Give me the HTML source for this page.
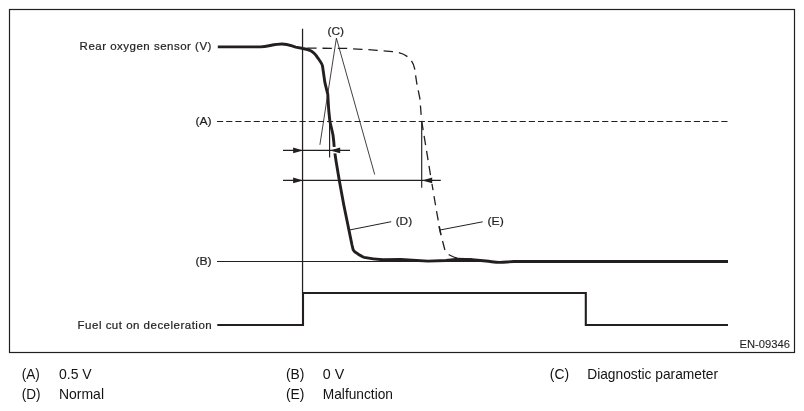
<!DOCTYPE html>
<html><head><meta charset="utf-8">
<style>
html,body{margin:0;padding:0;background:#fff;}
body{width:804px;height:411px;overflow:hidden;position:relative;font-family:"Liberation Sans",sans-serif;color:#231f20;}
svg{position:absolute;left:0;top:0;transform:translateZ(0);}
text{font-family:"Liberation Sans",sans-serif;fill:#231f20;}
.d{font-size:11.5px;stroke:#231f20;stroke-width:0.22px;}
.s{font-size:11.7px;}
.l{font-size:14.2px;fill:#141213;}
</style></head><body>
<svg width="804" height="411" viewBox="0 0 804 411">
<rect x="9.5" y="9.5" width="785" height="343" fill="none" stroke="#231f20" stroke-width="1.2"/>
<!-- dashed E curve -->
<path d="M421.65 120.8 L421.1 114.3 L419.9 98.7 L416.8 83.5 L414.6 68.5 C413.8 64.5 412 60.5 408.5 57.5 C405 54.5 400 52.3 392.5 51.6 L377 50.3 L362 49.3 L346 48.4 L305.4 48.1" fill="none" stroke="#231f20" stroke-width="1.3" stroke-dasharray="9.4 5.9" stroke-dashoffset="9.4"/>
<path d="M421.65 120.8 L431.3 180 L436.5 211 L440.9 234.6 L444.9 250 C446.5 253 448 254.2 450.5 255.5 C453 257 455.5 257.8 458 258.3 L472.3 259.2" fill="none" stroke="#231f20" stroke-width="1.3" stroke-dasharray="9.35 5.9"/>
<!-- thick D curve -->
<path d="M217.8 46.9 L260.6 46.9 C268 46.6 274 44 282 44 C288 44 291 45.8 295.7 47.1 L303 48.5 C306 49 308.5 49.6 311.2 51 C314 52.5 316 55 318 58.2 C320 61 322 63.5 322.5 66 L324.9 82.6 L327.8 94.3 L328.7 110 L329.9 121.5 L331.9 130 L333 135 L333.8 142 L334.4 150 L336.2 162 L339.3 180.4 L343.8 205 L352 245 L353.2 249.8 C354.3 252 356 252.8 358 254 C360 255.2 361.5 256.6 364.2 257.3 C370 258.6 376 259.4 383.2 259.7 L400.7 259.5 L428 261.1 L446 260.5 L458 259.3 L472 259.8 L486 261 C492 261.6 495 262.4 499.7 262.4 C505 262.4 508 261.6 514 261.5 L728 261.5" fill="none" stroke="#231f20" stroke-width="2.9" stroke-linejoin="round"/>
<!-- fuel cut -->
<path d="M217.3 325 L303 325 L303 293 L585.8 293 L585.8 325 L728 325" fill="none" stroke="#231f20" stroke-width="2.1"/>
<!-- arrowheads with white knock-out -->
<rect x="330.6" y="146.9" width="10.4" height="6.5" fill="#fff"/>
<rect x="423.2" y="176.6" width="9.8" height="7.2" fill="#fff"/>
<g fill="#231f20" stroke="#fff" stroke-width="1" paint-order="stroke">
<path d="M303 150.4 L293.1 147.45 L293.1 153.35 Z"/>
<path d="M330.1 150.4 L340.2 147.45 L340.2 153.35 Z"/>
<path d="M303 180.4 L293.1 177.45 L293.1 183.35 Z"/>
<path d="M422.2 180.4 L432.2 177.45 L432.2 183.35 Z"/>
</g>
<g stroke="#231f20" fill="none" stroke-width="1.15">
<!-- vertical ref line -->
<line x1="302.55" y1="28.8" x2="302.55" y2="293" stroke-width="1.25"/>
<!-- A dashed -->
<line x1="217" y1="121.5" x2="727.5" y2="121.5" stroke-width="1.2" stroke-dasharray="6.17 3"/>
<!-- B line -->
<line x1="217" y1="261.5" x2="728" y2="261.5"/>
<!-- dim rows -->
<line x1="283" y1="150.4" x2="350" y2="150.4"/>
<line x1="329.6" y1="122" x2="329.6" y2="157.5"/>
<line x1="283" y1="180.4" x2="440.8" y2="180.4"/>
<line x1="421.7" y1="121.3" x2="421.7" y2="187.8"/>
</g>
<g stroke="#231f20" fill="none" stroke-width="0.85">
<!-- C leaders -->
<line x1="336.4" y1="38.1" x2="319.9" y2="144.8"/>
<line x1="336.4" y1="38.1" x2="374.7" y2="174.5"/>
<!-- D,E leaders -->
<line x1="350" y1="229.9" x2="391.2" y2="221.7" stroke-width="1"/>
<line x1="440" y1="230" x2="482.7" y2="221.8" stroke-width="1"/>
<line x1="438.9" y1="226.4" x2="440.9" y2="234.6" stroke-width="1.3"/>
</g>
<!-- labels -->
<text class="d" x="79.6" y="49.9" textLength="131.8" lengthAdjust="spacing">Rear oxygen sensor (V)</text>
<text class="d s" x="195.4" y="124.7" textLength="16.2" lengthAdjust="spacingAndGlyphs">(A)</text>
<text class="d s" x="195.4" y="264.9" textLength="16.2" lengthAdjust="spacingAndGlyphs">(B)</text>
<text class="d" x="77.6" y="328.9" textLength="134.1" lengthAdjust="spacing">Fuel cut on deceleration</text>
<text class="d s" x="327.5" y="34.8" textLength="16.5" lengthAdjust="spacingAndGlyphs">(C)</text>
<text class="d s" x="395.7" y="224.7" textLength="16.4" lengthAdjust="spacingAndGlyphs">(D)</text>
<text class="d s" x="487.5" y="224.7" textLength="16.3" lengthAdjust="spacingAndGlyphs">(E)</text>
<text x="739.5" y="348" font-size="11.2" stroke="#231f20" stroke-width="0.1" textLength="50.5" lengthAdjust="spacingAndGlyphs">EN-09346</text>
<!-- legend -->
<text class="l" x="21.8" y="378.5" textLength="18.1" lengthAdjust="spacingAndGlyphs">(A)</text>
<text class="l" x="59.0" y="378.5" textLength="32.7" lengthAdjust="spacingAndGlyphs">0.5 V</text>
<text class="l" x="285.9" y="378.5" textLength="18.5" lengthAdjust="spacingAndGlyphs">(B)</text>
<text class="l" x="322.8" y="378.5" textLength="21.4" lengthAdjust="spacingAndGlyphs">0 V</text>
<text class="l" x="549.8" y="378.5" textLength="19.3" lengthAdjust="spacingAndGlyphs">(C)</text>
<text class="l" x="587.2" y="378.5" textLength="130.8" lengthAdjust="spacingAndGlyphs">Diagnostic parameter</text>
<text class="l" x="21.8" y="398.65" textLength="18.8" lengthAdjust="spacingAndGlyphs">(D)</text>
<text class="l" x="59.0" y="398.65" textLength="45.0" lengthAdjust="spacingAndGlyphs">Normal</text>
<text class="l" x="285.9" y="398.65" textLength="18.5" lengthAdjust="spacingAndGlyphs">(E)</text>
<text class="l" x="322.8" y="398.65" textLength="70.2" lengthAdjust="spacingAndGlyphs">Malfunction</text>
</svg>
</body></html>
